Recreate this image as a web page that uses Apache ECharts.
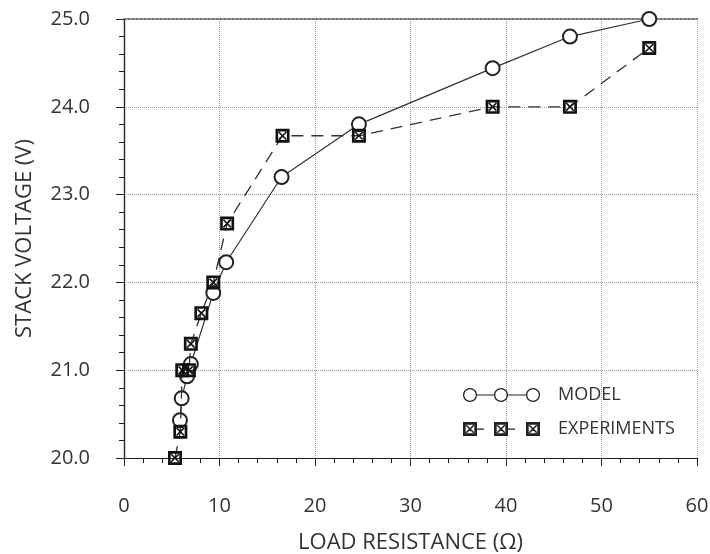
<!DOCTYPE html>
<html>
<head>
<meta charset="utf-8">
<script src="https://cdn.jsdelivr.net/npm/echarts@6/dist/echarts.min.js"></script>
<style>
  html, body { margin: 0; padding: 0; background: #fff; }
  #chart { width: 710px; height: 554px; }
</style>
</head>
<body>
<div id="chart"></div>
<script>
// model curve: load resistance (ohm) / stack voltage (V)
const modelR = [5.86, 6.04, 6.6, 7.0, 9.35, 10.7, 16.5, 24.6, 38.6, 46.7, 55.0];
const modelV = [20.43, 20.68, 20.93, 21.07, 21.88, 22.23, 23.20, 23.80, 24.44, 24.80, 25.00];

// experiments
const expR = [5.34, 5.9, 6.1, 6.8, 7.0, 8.1, 9.35, 10.8, 16.6, 24.6, 38.6, 46.7, 55.0];
const expV = [20.00, 20.30, 21.00, 21.00, 21.30, 21.65, 22.00, 22.67, 23.67, 23.67, 24.00, 24.00, 24.67];

const seriesNames = ['MODEL', 'EXPERIMENTS'];

const FONT = '"Open Sans", "DejaVu Sans", sans-serif';
const INK = '#222';

// --- little path helpers for symbols / legend icons ---
function poly(pts) {
    return 'M' + pts.map(p => p[0].toFixed(2) + ' ' + p[1].toFixed(2)).join(' L') + ' Z ';
}
function circlePts(cx, cy, r, ccw) {
    const pts = [];
    for (let i = 0; i < 32; i++) {
        const a = (ccw ? -1 : 1) * i / 32 * Math.PI * 2;
        pts.push([cx + r * Math.cos(a), cy + r * Math.sin(a)]);
    }
    return pts;
}
function ring(cx, cy, r, t) {
    return poly(circlePts(cx, cy, r, false)) + poly(circlePts(cx, cy, r - t, true));
}
function rectPath(x, y, w, h) {
    return poly([[x, y], [x + w, y], [x + w, y + h], [x, y + h]]);
}
// boxed X, size s with top-left (x, y)
function boxX(x, y, s) {
    const b = s * 0.19, d = s * 0.08;
    const i0 = b, i1 = s - b;
    let p = poly([[x, y], [x + s, y], [x + s, y + s], [x, y + s]]);
    p += poly([[x + i0, y + i0], [x + i0, y + i1], [x + i1, y + i1], [x + i1, y + i0]]);
    p += poly([[x + i0, y + i0 + d], [x + i0 + d, y + i0], [x + i1, y + i1 - d], [x + i1 - d, y + i1]]);
    p += poly([[x + i1 - d, y + i0], [x + i1, y + i0 + d], [x + i0 + d, y + i1], [x + i0, y + i1 - d]]);
    return p;
}

const expSymbol = 'path://' + boxX(0, 0, 100);

// legend icons: three markers joined by line pieces
const modelIcon = 'path://' + ring(7, 7, 7, 1.3) + ring(38, 7, 7, 1.3) + ring(70, 7, 7, 1.3)
    + rectPath(14, 6.4, 17, 1.2) + rectPath(45, 6.4, 18, 1.2);
const expIcon = 'path://' + boxX(0, 0, 14) + boxX(31, 0, 14) + boxX(63, 0, 14)
    + rectPath(14, 6.4, 7, 1.3) + rectPath(45, 6.4, 7, 1.3);

const chart = echarts.init(document.getElementById('chart'));

const option = {
    backgroundColor: '#fff',
    animation: false,
    textStyle: { fontFamily: FONT },
    grid: { left: 124, right: 13, top: 19, bottom: 96, outerBoundsMode: 'none', containLabel: false },
    legend: {
        orient: 'vertical',
        left: 458,
        top: 381,
        itemWidth: 77,
        itemHeight: 14,
        itemGap: 16,
        textStyle: { fontFamily: FONT, fontSize: 18, lineHeight: 14, color: '#333', padding: [0, 0, 0, 13] },
        data: [
            { name: seriesNames[0], icon: modelIcon, itemStyle: { color: INK, borderWidth: 0 } },
            { name: seriesNames[1], icon: expIcon, itemStyle: { color: INK, borderWidth: 0 } }
        ]
    },
    xAxis: [{
        type: 'value',
        min: 0, max: 60, interval: 10,
        name: 'LOAD RESISTANCE (\u03A9)',
        nameLocation: 'middle',
        nameGap: 74,
        nameTextStyle: { fontFamily: FONT, fontSize: 22, color: '#333' },
        axisLine: { lineStyle: { color: INK, width: 1.2 } },
        axisTick: { length: 8, lineStyle: { color: INK } },
        minorTick: { show: true, splitNumber: 5, length: 5, lineStyle: { color: INK } },
        axisLabel: { margin: 38, fontSize: 20, color: '#333', fontFamily: FONT },
        splitLine: { show: true, lineStyle: { color: '#999', type: 'dotted', width: 1 } }
    }, {
        type: 'value',
        position: 'top',
        min: 0, max: 60,
        axisLine: { show: true, lineStyle: { color: '#777', type: 'dotted', width: 2 } },
        axisTick: { show: false },
        axisLabel: { show: false },
        splitLine: { show: false }
    }],
    yAxis: [{
        type: 'value',
        min: 20, max: 25, interval: 1,
        name: 'STACK VOLTAGE (V)',
        nameLocation: 'middle',
        nameGap: 88,
        nameTextStyle: { fontFamily: FONT, fontSize: 22, color: '#333' },
        axisLine: { show: true, lineStyle: { color: INK, width: 1.2 } },
        axisTick: { show: true, length: 8, lineStyle: { color: INK } },
        minorTick: { show: true, splitNumber: 5, length: 5, lineStyle: { color: INK } },
        axisLabel: {
            margin: 34, fontSize: 20, color: '#333', fontFamily: FONT,
            formatter: v => v.toFixed(1)
        },
        splitLine: { show: true, lineStyle: { color: '#999', type: 'dotted', width: 1 } }
    }, {
        type: 'value',
        position: 'right',
        min: 20, max: 25,
        axisLine: { show: true, lineStyle: { color: INK, width: 1.2 } },
        axisTick: { show: false },
        axisLabel: { show: false },
        splitLine: { show: false }
    }],
    series: [{
        name: seriesNames[0],
        type: 'line',
        data: modelR.map((r, i) => [r, modelV[i]]),
        symbol: 'emptyCircle',
        symbolSize: 14,
        showAllSymbol: true,
        itemStyle: { color: INK, borderWidth: 1.5 },
        lineStyle: { color: '#333', width: 1.2 },
        z: 3
    }, {
        name: seriesNames[1],
        type: 'line',
        data: expR.map((r, i) => [r, expV[i]]),
        symbol: expSymbol,
        symbolSize: 14,
        showAllSymbol: true,
        itemStyle: { color: '#111', borderWidth: 0 },
        lineStyle: { color: '#333', width: 1.3, type: [12, 8] },
        z: 4
    }]
};

chart.setOption(option);
</script>
</body>
</html>
